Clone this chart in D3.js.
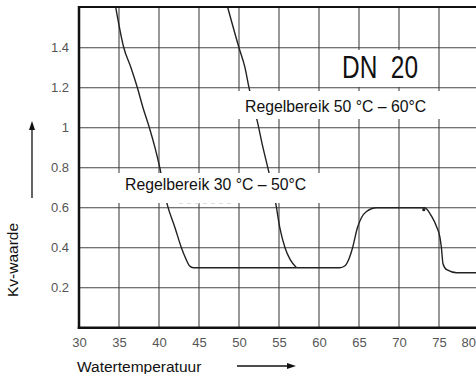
<!DOCTYPE html>
<html>
<head>
<meta charset="utf-8">
<script src="https://cdn.jsdelivr.net/npm/d3@7"></script>
<style>
  body { margin: 0; background: #fff; }
  svg { display: block; font-family: "Liberation Sans", Arial, sans-serif; }
</style>
</head>
<body>
<div id="chart"></div>
<script>
// Kv-waarde vs watertemperatuur, DN 20
const xTicks = [30, 35, 40, 45, 50, 55, 60, 65, 70, 75, 80];
const yTicks = [0.2, 0.4, 0.6, 0.8, 1.0, 1.2, 1.4];

// [temp, kv]
const curve1 = [[34.6, 1.6], [35.6, 1.4], [36.5, 1.3], [37.3, 1.2], [38.0, 1.1], [38.8, 1.0], [39.5, 0.9],
  [40.1, 0.8], [41.0, 0.62], [42.0, 0.5], [42.8, 0.4], [43.3, 0.35], [43.8, 0.31], [44.3, 0.3], [57.2, 0.3]];
const curve2 = [[48.6, 1.6], [50.0, 1.4], [50.75, 1.3], [51.25, 1.2], [52.3, 1.03], [53.0, 0.9], [53.6, 0.8],
  [54.6, 0.62], [55.1, 0.5], [55.75, 0.4], [56.4, 0.34], [57.2, 0.3]];
const curve3 = [[57.2, 0.3], [62.6, 0.3], [63.25, 0.31], [63.8, 0.35], [64.2, 0.4], [64.8, 0.5], [65.3, 0.55],
  [65.9, 0.58], [67.2, 0.6], [73.2, 0.6], [74.1, 0.555], [74.7, 0.505], [75.1, 0.455], [75.3, 0.4],
  [75.5, 0.32], [75.96, 0.29], [77.2, 0.275], [80, 0.275]];

const labels = ['Regelbereik 30 °C – 50°C', 'Regelbereik 50 °C – 60°C'];

const width = 476, height = 374;
const plotLeft = 79, plotTop = 7.7, plotBottom = 327.7;

const x = d3.scaleLinear().domain([30, 80]).range([plotLeft, plotLeft + 400]);
const y = d3.scaleLinear().domain([0, 1.6]).range([plotBottom, plotTop]);

const svg = d3.select('#chart').append('svg')
  .attr('width', width)
  .attr('height', height);

svg.append('defs').append('clipPath').attr('id', 'plot')
  .append('rect').attr('x', plotLeft).attr('y', plotTop).attr('width', width - plotLeft).attr('height', plotBottom - plotTop);

const plot = svg.append('g').attr('clip-path', 'url(#plot)');

// grid
plot.selectAll('.vgrid').data(xTicks.slice(1)).enter().append('line')
  .attr('x1', d => x(d)).attr('x2', d => x(d))
  .attr('y1', plotTop).attr('y2', plotBottom)
  .attr('stroke', '#444').attr('stroke-width', 1.1);
plot.selectAll('.hgrid').data(yTicks).enter().append('line')
  .attr('x1', plotLeft).attr('x2', width)
  .attr('y1', d => y(d)).attr('y2', d => y(d))
  .attr('stroke', '#444').attr('stroke-width', 1.1);

// curves
const line = d3.line().x(d => x(d[0])).y(d => y(d[1])).curve(d3.curveMonotoneX);
[curve1, curve2, curve3].forEach(c => {
  plot.append('path').attr('d', line(c))
    .attr('fill', 'none').attr('stroke', '#222').attr('stroke-width', 1.4);
});
plot.append('circle').attr('cx', x(73.1)).attr('cy', y(0.59)).attr('r', 1.6).attr('fill', '#222');

// white boxes behind the notes
plot.append('rect').attr('x', 328).attr('y', 50).attr('width', 108).attr('height', 37).attr('fill', '#fff');
plot.append('rect').attr('x', 237).attr('y', 91).attr('width', 212).attr('height', 28).attr('fill', '#fff');
plot.append('rect').attr('x', 116).attr('y', 173).attr('width', 210).attr('height', 30).attr('fill', '#fff');

plot.append('line').attr('x1', x(42.5)).attr('x2', x(49)).attr('y1', 203.5).attr('y2', 203.5)
  .attr('stroke', '#ddd').attr('stroke-dasharray', '4,4');

svg.append('text').attr('x', 342).attr('y', 78)
  .style('white-space', 'pre')
  .attr('font-family', '"Liberation Sans Narrow", "Liberation Sans", sans-serif')
  .attr('font-size', 31).attr('fill', '#111')
  .attr('textLength', 76).attr('lengthAdjust', 'spacingAndGlyphs')
  .text('DN  20');
svg.append('text').attr('x', 245).attr('y', 112).attr('font-size', 15.8).attr('fill', '#111').text(labels[1]);
svg.append('text').attr('x', 125).attr('y', 190).attr('font-size', 15.8).attr('fill', '#111').text(labels[0]);

// frame
svg.append('line').attr('x1', plotLeft).attr('x2', width).attr('y1', plotTop - 0.7).attr('y2', plotTop - 0.7)
  .attr('stroke', '#111').attr('stroke-width', 2.2);
svg.append('line').attr('x1', plotLeft).attr('x2', plotLeft).attr('y1', plotTop - 1.8).attr('y2', plotBottom + 1.2)
  .attr('stroke', '#111').attr('stroke-width', 2.5);
svg.append('line').attr('x1', plotLeft - 1.2).attr('x2', width).attr('y1', plotBottom).attr('y2', plotBottom)
  .attr('stroke', '#111').attr('stroke-width', 2.5);

// axes (labels only)
const yAxis = svg.append('g').attr('transform', `translate(${plotLeft},0)`)
  .call(d3.axisLeft(y).tickValues(yTicks).tickSize(0).tickPadding(10)
    .tickFormat(d => d === 1 ? '1' : d3.format('.1f')(d)));
const xAxis = svg.append('g').attr('transform', `translate(0,${plotBottom})`)
  .call(d3.axisBottom(x).tickValues(xTicks).tickSize(0).tickPadding(10).tickFormat(d3.format('d')));
[yAxis, xAxis].forEach(a => {
  a.select('.domain').remove();
  a.selectAll('text').attr('font-size', 13).attr('fill', '#555')
    .attr('font-family', '"Liberation Sans", Arial, sans-serif');
});
// last label sits against the right edge, as in the original
xAxis.selectAll('.tick').filter(d => d === 80).select('text')
  .attr('text-anchor', 'end').attr('x', width - x(80) - 0.5);

// axis titles with arrows
svg.append('text')
  .attr('transform', 'translate(18,260) rotate(-90)')
  .attr('text-anchor', 'middle').attr('font-size', 15.5).attr('fill', '#111')
  .text('Kv-waarde');
svg.append('text').attr('x', 77).attr('y', 372).attr('font-size', 15.5).attr('fill', '#111')
  .text('Watertemperatuur');

svg.append('line').attr('x1', 32).attr('x2', 32).attr('y1', 198).attr('y2', 128)
  .attr('stroke', '#111').attr('stroke-width', 1.3);
svg.append('path').attr('d', 'M32,121 L29,130 L35,130 Z').attr('fill', '#111');
svg.append('line').attr('x1', 237).attr('x2', 289).attr('y1', 366).attr('y2', 366)
  .attr('stroke', '#111').attr('stroke-width', 1.3);
svg.append('path').attr('d', 'M296,366 L287,363 L287,369 Z').attr('fill', '#111');
</script>
</body>
</html>
